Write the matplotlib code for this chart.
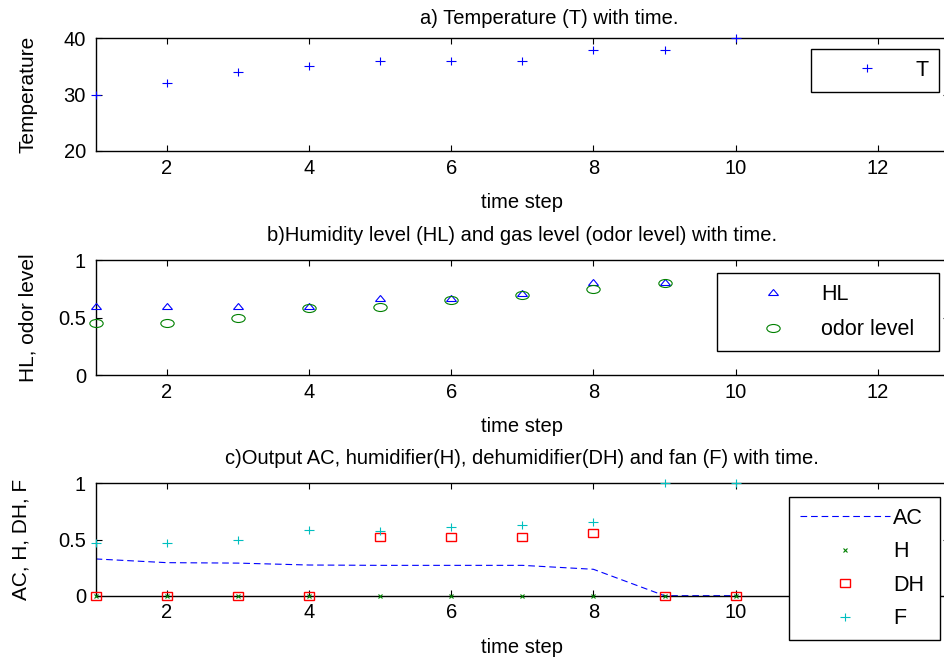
import matplotlib
matplotlib.use('Agg')
import matplotlib.pyplot as plt
from matplotlib.markers import MarkerStyle
from matplotlib.transforms import Affine2D

plt.rcParams['font.family'] = ['Liberation Sans', 'DejaVu Sans']

# data
time = [1, 2, 3, 4, 5, 6, 7, 8, 9, 10]
T = [30, 32, 34, 35, 36, 36, 36, 38, 38, 40]

time_b = [1, 2, 3, 4, 5, 6, 7, 8, 9]
HL = [0.60, 0.60, 0.60, 0.60, 0.67, 0.67, 0.71, 0.81, 0.81]
odor = [0.455, 0.455, 0.50, 0.585, 0.59, 0.65, 0.70, 0.745, 0.80]

AC = [0.327, 0.294, 0.29, 0.273, 0.27, 0.27, 0.27, 0.235, 0.0, 0.0]
H = [0, 0, 0, 0, 0, 0, 0, 0, 0, 0]
DH = [0, 0, 0, 0, 0.52, 0.525, 0.525, 0.56, 0, 0]
F = [0.47, 0.465, 0.50, 0.585, 0.58, 0.61, 0.63, 0.66, 1.0, 1.0]

xticks = [2, 4, 6, 8, 10, 12]
yticks_a = [20, 30, 40]
yticks_bc = [0, 0.5, 1]
ylabels_bc = ['0', '0.5', '1']

titles = ['a) Temperature (T) with time.',
          'b)Humidity level (HL) and gas level (odor level) with time.',
          'c)Output AC, humidifier(H), dehumidifier(DH) and fan (F) with time.']
ylabs = ['Temperature', 'HL, odor level', 'AC, H, DH, F']

W, Hh = 945.0, 660.0
cyan = (0, 0.75, 0.75)
green = (0, 0.5, 0)


def mk(m, sx, sy):
    return MarkerStyle(m, transform=Affine2D().scale(sx, sy))


fig = plt.figure(figsize=(9.45, 6.6), dpi=100)
left = 95.6 / W
width = (949 - 95.6) / W
# (top px, bottom px) of each panel
boxes = [(38.3, 151.0), (260.0, 375.0), (483.3, 595.7)]
axs = []
for top, bot in boxes:
    ax = fig.add_axes([left, 1 - bot / Hh, width, (bot - top) / Hh])
    axs.append(ax)

for i, ax in enumerate(axs):
    ax.set_xlim(1, 13)
    ax.set_xticks(xticks)
    ax.tick_params(direction='in', top=True, right=True, length=4.5,
                   width=0.8, labelsize=14.5, pad=5.5)
    ax.tick_params(axis='y', pad=7)
    for s in ax.spines.values():
        s.set_linewidth(1.0)
    ax.set_xlabel('time step', fontsize=14.5, labelpad=11)

# panel a
ax = axs[0]
ax.plot(time, T, linestyle='none', marker=mk('+', 1.2, 0.85), markersize=6,
        mew=0.8, color='blue', label='T', clip_on=False, zorder=3)
ax.set_ylim(20, 40)
ax.set_yticks(yticks_a)
ax.set_title(titles[0], fontsize=14.5, pad=10, x=0.531)

# panel b
ax = axs[1]
ax.plot(time_b, HL, linestyle='none', marker=mk('^', 1.3, 0.65), markersize=6,
        mew=0.8, mfc='none', mec='blue', label='HL', clip_on=False, zorder=3)
ax.plot(time_b, odor, linestyle='none', marker=mk('o', 1.2, 0.72), markersize=8,
        mew=0.8, mfc='none', mec=green, label='odor level', clip_on=False,
        zorder=3)
ax.set_ylim(0, 1)
ax.set_yticks(yticks_bc)
ax.set_yticklabels(ylabels_bc)
ax.set_title(titles[1], fontsize=14.5, pad=13.5)

# panel c
ax = axs[2]
ax.plot(time, AC, linestyle='--', dashes=(6, 3.5), lw=0.8, color='blue',
        label='AC')
ax.plot(time, H, linestyle='none', marker='x', markersize=3, mew=0.8,
        color=green, label='H', clip_on=False, zorder=4)
ax.plot(time, DH, linestyle='none', marker=mk('s', 1.0, 0.8), markersize=6.5,
        mew=1.0, mfc='none', mec='red', label='DH', clip_on=False, zorder=3)
ax.plot(time, F, linestyle='none', marker=mk('+', 1.2, 0.85), markersize=6,
        mew=0.8, color=cyan, label='F', clip_on=False, zorder=3)
ax.set_ylim(0, 1)
ax.set_yticks(yticks_bc)
ax.set_yticklabels(ylabels_bc)
ax.set_title(titles[2], fontsize=14.5, pad=14)

# y labels, placed by the right edge of the rotated text
for ax, lab, (top, bot), xp in zip(axs, ylabs, boxes, [37, 37, 31]):
    ax.set_ylabel(lab, fontsize=15)
    ax.yaxis.set_label_coords(xp / W, 1 - (top + bot) / 2 / Hh,
                              transform=fig.transFigure)

# legends: (left, top, right) in pixels, and row spacing
legbox = [(811, 49, 939), (717, 273, 939), (789, 497, 940)]
spacing = [0.68, 0.68, 0.58]
for ax, (l, t, r), sp in zip(axs, legbox, spacing):
    leg = ax.legend(loc='upper left',
                    bbox_to_anchor=(l / W, 1 - t / Hh - 0.01, (r - l) / W, 0.01),
                    bbox_transform=fig.transFigure, mode='expand',
                    borderaxespad=0, fontsize=15.5, fancybox=False,
                    framealpha=1, edgecolor='black', handlelength=4.2,
                    handletextpad=0.15, borderpad=0.5, labelspacing=sp,
                    numpoints=1)
    leg.get_frame().set_linewidth(1.0)

fig.savefig('out.png', dpi=100)
